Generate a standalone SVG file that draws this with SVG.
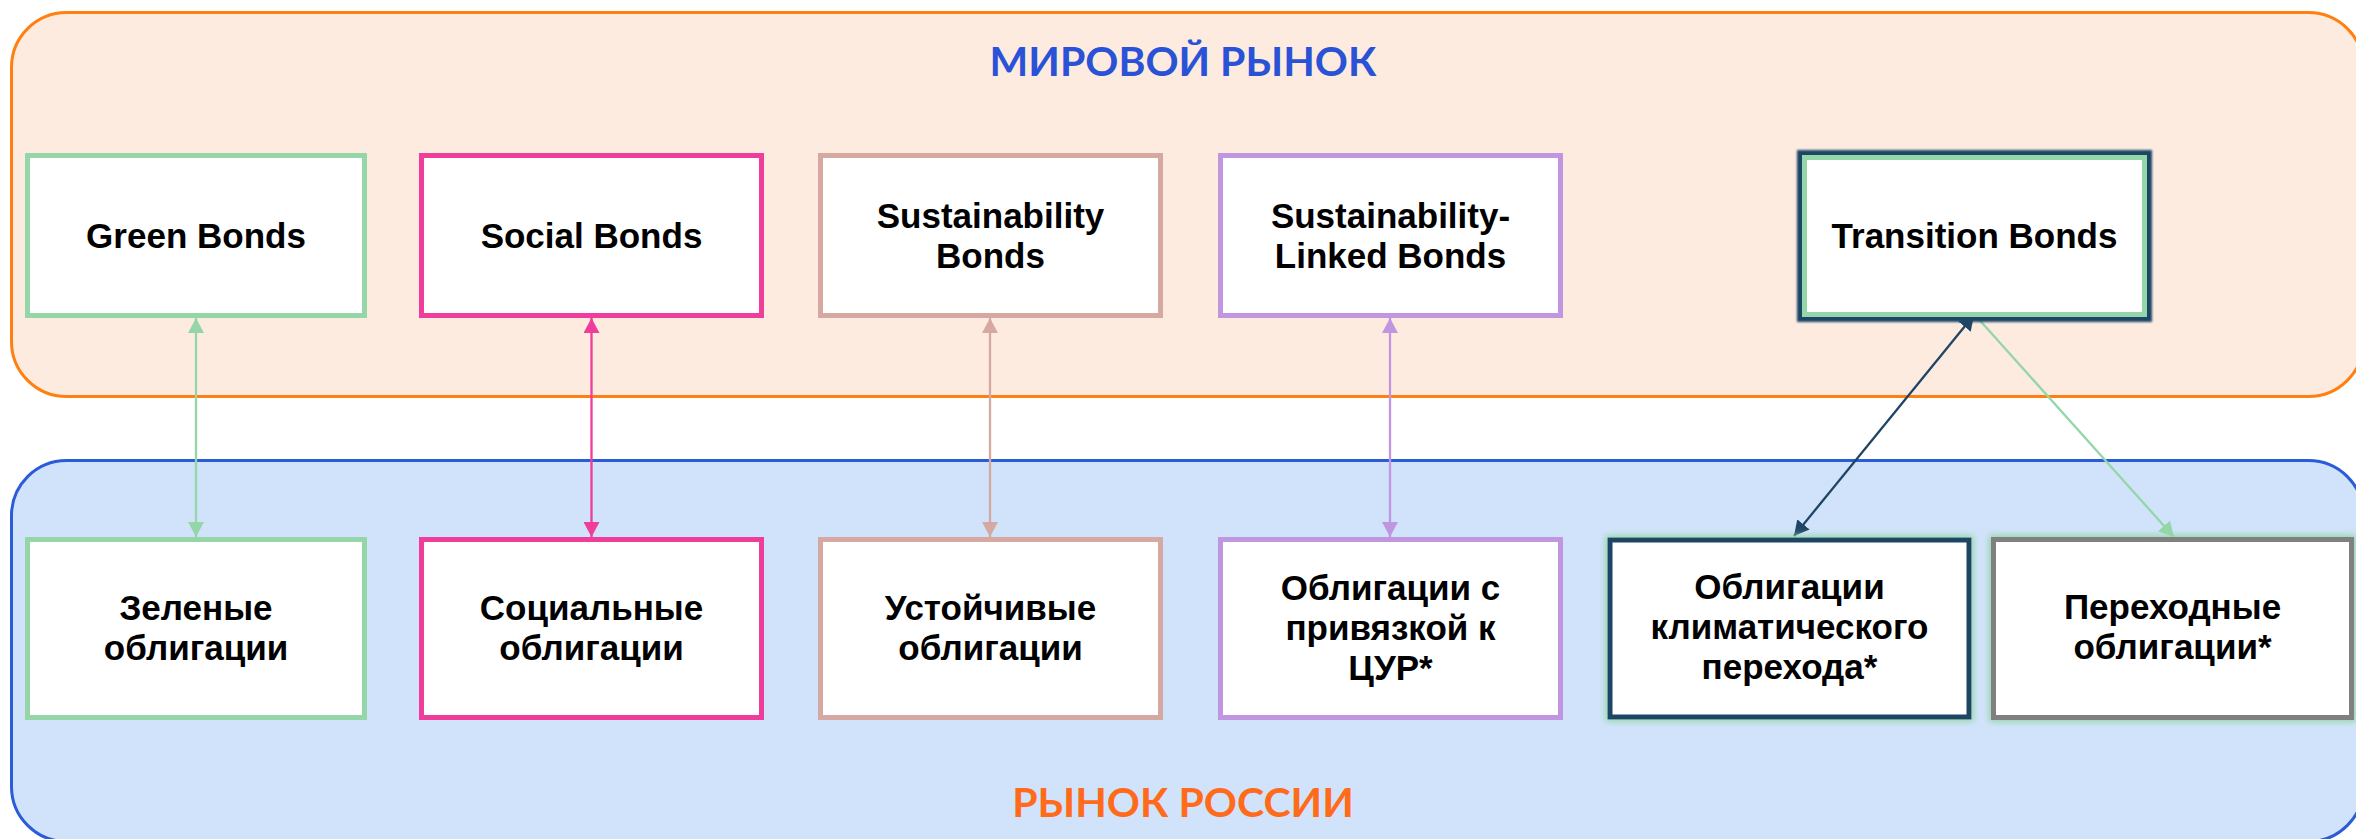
<svg xmlns="http://www.w3.org/2000/svg" width="2356" height="839" viewBox="0 0 2356 839">
  <style>
    .lbl { font-family: "Liberation Sans", "Lato", sans-serif; font-weight: 700; font-size: 35px; fill: #000; text-anchor: middle; }
    .title { font-family: "Lato", "Liberation Sans", sans-serif; font-weight: 700; font-size: 41px; text-anchor: middle; }
    .box { fill: #fff; stroke-width: 5; }
    .conn { fill: none; stroke-width: 2.3; }
  </style>
  <defs>
    <filter id="navyGlow" x="-10%" y="-15%" width="120%" height="130%">
      <feMorphology in="SourceAlpha" operator="dilate" radius="5" result="d"/>
      <feFlood flood-color="#1F4566"/>
      <feComposite in2="d" operator="in" result="c"/>
      <feGaussianBlur in="c" stdDeviation="1.2" result="b"/>
      <feMerge><feMergeNode in="b"/><feMergeNode in="SourceGraphic"/></feMerge>
    </filter>
    <filter id="greenGlow" x="-10%" y="-15%" width="120%" height="130%">
      <feMorphology in="SourceAlpha" operator="dilate" radius="2" result="d"/>
      <feFlood flood-color="#94D6A8"/>
      <feComposite in2="d" operator="in" result="c"/>
      <feGaussianBlur in="c" stdDeviation="3" result="b"/>
      <feMerge><feMergeNode in="b"/><feMergeNode in="SourceGraphic"/></feMerge>
    </filter>
    <marker id="mGreen" viewBox="0 0 15 16" refX="15" refY="8" markerWidth="15" markerHeight="16" markerUnits="userSpaceOnUse" orient="auto-start-reverse"><path d="M0,0 L15,8 L0,16 z" fill="#94D6A8"/></marker>
    <marker id="mPink" viewBox="0 0 15 16" refX="15" refY="8" markerWidth="15" markerHeight="16" markerUnits="userSpaceOnUse" orient="auto-start-reverse"><path d="M0,0 L15,8 L0,16 z" fill="#F03C9B"/></marker>
    <marker id="mTan" viewBox="0 0 15 16" refX="15" refY="8" markerWidth="15" markerHeight="16" markerUnits="userSpaceOnUse" orient="auto-start-reverse"><path d="M0,0 L15,8 L0,16 z" fill="#D5A9A2"/></marker>
    <marker id="mPurple" viewBox="0 0 15 16" refX="15" refY="8" markerWidth="15" markerHeight="16" markerUnits="userSpaceOnUse" orient="auto-start-reverse"><path d="M0,0 L15,8 L0,16 z" fill="#C096E0"/></marker>
    <marker id="mNavy" viewBox="0 0 15 16" refX="15" refY="8" markerWidth="15" markerHeight="16" markerUnits="userSpaceOnUse" orient="auto-start-reverse"><path d="M0,0 L15,8 L0,16 z" fill="#1F4566"/></marker>
  </defs>

  <rect width="2356" height="839" fill="#ffffff"/>

  <g id="world-market">
    <rect x="11.5" y="12.5" width="2352" height="384" rx="55" ry="55" fill="#FDEBE0" stroke="#FF8010" stroke-width="3"/>
    <text class="title" x="1183" y="76" fill="#2A52D6">МИРОВОЙ РЫНОК</text>
  </g>

  <g id="russia-market">
    <rect x="11.5" y="460.5" width="2352" height="381" rx="55" ry="55" fill="#D1E3FB" stroke="#2B5BD7" stroke-width="3"/>
    <text class="title" x="1183" y="817" fill="#FF6B1A">РЫНОК РОССИИ</text>
  </g>

  <g id="connectors">
    <line class="conn" x1="196" y1="318" x2="196" y2="537" stroke="#94D6A8" marker-start="url(#mGreen)" marker-end="url(#mGreen)"/>
    <line class="conn" x1="591.5" y1="318" x2="591.5" y2="537" stroke="#F03C9B" marker-start="url(#mPink)" marker-end="url(#mPink)"/>
    <line class="conn" x1="990" y1="318" x2="990" y2="537" stroke="#D5A9A2" marker-start="url(#mTan)" marker-end="url(#mTan)"/>
    <line class="conn" x1="1390" y1="318" x2="1390" y2="537" stroke="#C096E0" marker-start="url(#mPurple)" marker-end="url(#mPurple)"/>
    <line class="conn" x1="1974" y1="315" x2="1794" y2="536" stroke="#1F4566" marker-start="url(#mNavy)" marker-end="url(#mNavy)"/>
    <line class="conn" x1="1975" y1="315" x2="2174" y2="537" stroke="#94D6A8" marker-end="url(#mGreen)"/>
  </g>

  <g id="green-bonds">
    <rect class="box" x="27.5" y="155.5" width="337" height="160" stroke="#94D6A8"/>
    <text class="lbl" x="196" y="248">Green Bonds</text>
  </g>
  <g id="social-bonds">
    <rect class="box" x="421.5" y="155.5" width="340" height="160" stroke="#F03C9B"/>
    <text class="lbl" x="591.5" y="248">Social Bonds</text>
  </g>
  <g id="sustainability-bonds">
    <rect class="box" x="820.5" y="155.5" width="340" height="160" stroke="#D5A9A2"/>
    <text class="lbl" x="990.5" y="228">Sustainability</text>
    <text class="lbl" x="990.5" y="268">Bonds</text>
  </g>
  <g id="sl-bonds">
    <rect class="box" x="1220.5" y="155.5" width="340" height="160" stroke="#C096E0"/>
    <text class="lbl" x="1390.5" y="228">Sustainability-</text>
    <text class="lbl" x="1390.5" y="268">Linked Bonds</text>
  </g>
  <g id="transition-bonds">
    <rect class="box" x="1804.5" y="157.5" width="340" height="157" stroke="#94D6A8" filter="url(#navyGlow)"/>
    <text class="lbl" x="1974.5" y="248">Transition Bonds</text>
  </g>

  <g id="green-ru">
    <rect class="box" x="27.5" y="539.5" width="337" height="178" stroke="#94D6A8"/>
    <text class="lbl" x="196" y="620">Зеленые</text>
    <text class="lbl" x="196" y="660">облигации</text>
  </g>
  <g id="social-ru">
    <rect class="box" x="421.5" y="539.5" width="340" height="178" stroke="#F03C9B"/>
    <text class="lbl" x="591.5" y="620">Социальные</text>
    <text class="lbl" x="591.5" y="660">облигации</text>
  </g>
  <g id="sustainable-ru">
    <rect class="box" x="820.5" y="539.5" width="340" height="178" stroke="#D5A9A2"/>
    <text class="lbl" x="990.5" y="620">Устойчивые</text>
    <text class="lbl" x="990.5" y="660">облигации</text>
  </g>
  <g id="sdg-ru">
    <rect class="box" x="1220.5" y="539.5" width="340" height="178" stroke="#C096E0"/>
    <text class="lbl" x="1390.5" y="600">Облигации с</text>
    <text class="lbl" x="1390.5" y="640">привязкой к</text>
    <text class="lbl" x="1390.5" y="680">ЦУР*</text>
  </g>
  <g id="climate-transition-ru">
    <rect class="box" x="1610" y="540" width="359" height="177" stroke="#1F4566" stroke-width="6" filter="url(#greenGlow)"/>
    <text class="lbl" x="1789.5" y="599">Облигации</text>
    <text class="lbl" x="1789.5" y="639">климатического</text>
    <text class="lbl" x="1789.5" y="679">перехода*</text>
  </g>
  <g id="transition-ru">
    <rect class="box" x="1993.5" y="539.5" width="358" height="178" stroke="#808080" filter="url(#greenGlow)"/>
    <text class="lbl" x="2172.5" y="619">Переходные</text>
    <text class="lbl" x="2172.5" y="659">облигации*</text>
  </g>
</svg>
